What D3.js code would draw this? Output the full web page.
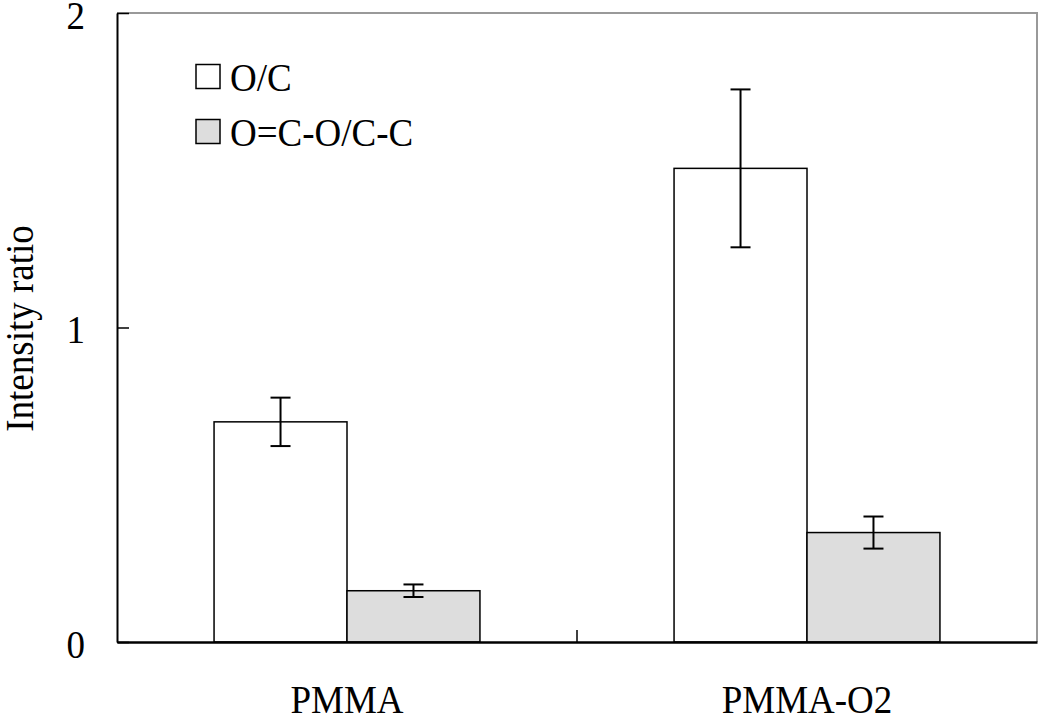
<!DOCTYPE html>
<html>
<head>
<meta charset="utf-8">
<script src="https://cdn.jsdelivr.net/npm/d3@7"></script>
</head>
<body style="margin:0">
<div id="chart"></div>
<script>
const width = 1039, height = 719;
const plotLeft = 117, plotRight = 1037, plotTop = 13, plotBottom = 642;
const serif = '"Liberation Serif"';
const fontSize = 40;

// data
const categories = ["PMMA", "PMMA-O2"];
const series = ["O/C", "O=C-O/C-C"];
const seriesFill = ["#ffffff", "#dddddd"];
const ocValues = [0.70, 1.506];
const ocErrors = [0.077, 0.251];
const esterValues = [0.163, 0.348];
const esterErrors = [0.02, 0.051];
const yTicks = [0, 1, 2];

const values = [ocValues, esterValues];
const errors = [ocErrors, esterErrors];

const svg = d3.select("#chart").append("svg")
    .attr("width", width)
    .attr("height", height);

// the source font is a bit narrower than Liberation Serif at the same height
function textStyle(sel) {
    sel.style("font-family", serif)
        .attr("font-size", fontSize)
        .attr("fill", "#000");
    sel.each(function () {
        const len = this.getComputedTextLength();
        d3.select(this)
            .attr("textLength", len * 0.925)
            .attr("lengthAdjust", "spacingAndGlyphs");
    });
}

const x0 = d3.scaleBand().domain(categories).range([plotLeft, plotRight]).padding(0);
const x1 = d3.scaleBand().domain(series).range([0, x0.bandwidth()])
    .paddingInner(0).paddingOuter(0.73);
const y = d3.scaleLinear().domain([0, 2]).range([plotBottom, plotTop]);

// light frame on top and right
svg.append("path")
    .attr("d", `M${plotLeft},${plotTop}H${plotRight}V${plotBottom}`)
    .attr("fill", "none")
    .attr("stroke", "#999")
    .attr("stroke-width", 2);

// bars
const rows = [];
categories.forEach((c, i) => {
    series.forEach((s, j) => {
        rows.push({cat: c, ser: s, j: j, v: values[j][i], e: errors[j][i]});
    });
});

svg.append("g").selectAll("rect")
    .data(rows)
    .enter().append("rect")
    .attr("x", d => x0(d.cat) + x1(d.ser))
    .attr("y", d => y(d.v))
    .attr("width", x1.bandwidth())
    .attr("height", d => y(0) - y(d.v))
    .attr("fill", d => seriesFill[d.j])
    .attr("stroke", "#000")
    .attr("stroke-width", 1.5);

// error bars
const err = svg.append("g").attr("stroke", "#000").attr("stroke-width", 2);
rows.forEach(d => {
    const cx = x0(d.cat) + x1(d.ser) + x1.bandwidth() / 2;
    err.append("line")
        .attr("x1", cx).attr("x2", cx)
        .attr("y1", y(d.v + d.e)).attr("y2", y(d.v - d.e));
    [d.v + d.e, d.v - d.e].forEach(t => {
        err.append("line")
            .attr("x1", cx - 10).attr("x2", cx + 10)
            .attr("y1", y(t)).attr("y2", y(t));
    });
});

// y axis
const yAxis = d3.axisLeft(y)
    .tickValues(yTicks)
    .tickFormat(d3.format("d"))
    .tickSizeInner(-12)
    .tickSizeOuter(0)
    .tickPadding(32);

const gy = svg.append("g")
    .attr("transform", `translate(${plotLeft},0)`)
    .call(yAxis);
gy.attr("font-family", null);
gy.select(".domain").attr("stroke", "#000").attr("stroke-width", 2);
gy.selectAll(".tick line").attr("stroke", "#000").attr("stroke-width", 1.5);
gy.selectAll(".tick text").attr("dy", "0.38em").call(textStyle);

// x axis
const xAxis = d3.axisBottom(x0).tickSize(0).tickPadding(43);
const gx = svg.append("g")
    .attr("transform", `translate(0,${plotBottom})`)
    .call(xAxis);
gx.attr("font-family", null);
gx.select(".domain").attr("stroke", "#000").attr("stroke-width", 2.5);
gx.selectAll(".tick text").call(textStyle);

// divider tick between the groups
svg.append("line")
    .attr("x1", x0(categories[1])).attr("x2", x0(categories[1]))
    .attr("y1", plotBottom).attr("y2", plotBottom - 12)
    .attr("stroke", "#000").attr("stroke-width", 1.5);

// y label
svg.append("text")
    .attr("transform", `translate(33,${(plotTop + plotBottom) / 2 + 1}) rotate(-90)`)
    .attr("text-anchor", "middle")
    .text("Intensity ratio")
    .call(textStyle);

// legend
const legend = svg.append("g");
series.forEach((s, j) => {
    const ly = 76.5 + j * 55;
    legend.append("rect")
        .attr("x", 196).attr("y", ly - 12)
        .attr("width", 24).attr("height", 24)
        .attr("fill", seriesFill[j])
        .attr("stroke", "#000")
        .attr("stroke-width", 1.5);
    legend.append("text")
        .attr("x", 230).attr("y", ly)
        .attr("dy", "0.35em")
        .text(s)
        .call(textStyle);
});
</script>
</body>
</html>
